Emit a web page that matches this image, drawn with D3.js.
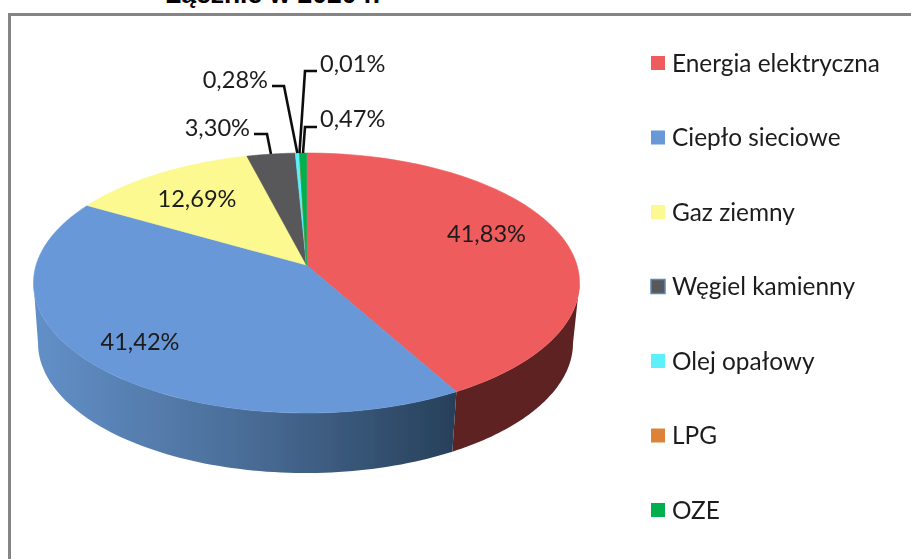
<html>
  <head>
    <meta charset="utf-8">
    <script src="https://d3js.org/d3.v7.min.js"></script>
    <style>
      body { margin: 0; background: #fff; overflow: hidden; }
      text { font-family: Lato, sans-serif; fill: #1c1c1c; }
    </style>
  </head>
  <body>
    <svg class="chart" width="911" height="559"></svg>

    <script>
      var categories = ["Energia elektryczna", "Ciepło sieciowe", "Gaz ziemny", "Węgiel kamienny", "Olej opałowy", "LPG", "OZE"];
      var shares = [41.83, 41.42, 12.69, 3.30, 0.28, 0.01, 0.47];
      var shareLabels = ["41,83%", "41,42%", "12,69%", "3,30%", "0,28%", "0,01%", "0,47%"];
      var colors = ["#ef5b5d", "#6898d7", "#fbf98f", "#58585a", "#5cf0fb", "#dd8338", "#00b050"];
      var title = "Łącznie w 2020 r.";

      var w = 911, h = 559;
      var svg = d3.select(".chart");

      var x = d3.scaleLinear().domain([-1, 1]).range([33.5, 579.5]);
      var y = d3.scaleLinear().domain([-1, 1]).range([413, 153]);
      // bottom rim is a bit narrower, the chart has perspective
      var xLow = d3.scaleLinear().domain([-1, 1]).range([38, 573]);
      var yLow = d3.scaleLinear().domain([-1, 1]).range([473, 213]);

      // slices meet above the ellipse centre, same perspective again
      var apexY = 0.138;

      var pie = d3.pie().sort(null).value(function(d) { return d; });
      var slices = pie(shares);

      function rimAngle(a) {
        var c = Math.cos(a), s = Math.sin(a);
        var len = -apexY * c + Math.sqrt(apexY * apexY * c * c - apexY * apexY + 1);
        var t = Math.atan2(len * s, apexY + len * c);
        while (t < a - Math.PI) t += 2 * Math.PI;
        return t;
      }

      function samples(t0, t1) {
        return d3.range(81).map(function(i) { return t0 + (t1 - t0) * i / 80; });
      }

      var top3d = d3.line()
        .x(function(t) { return x(Math.sin(t)); })
        .y(function(t) { return y(Math.cos(t)); });
      var low3d = d3.line()
        .x(function(t) { return xLow(Math.sin(t)); })
        .y(function(t) { return yLow(Math.cos(t)); });

      var defs = svg.append("defs");
      defs.append("filter").attr("id", "soft")
        .append("feGaussianBlur").attr("stdDeviation", 0.5);
      var grad = defs.append("linearGradient").attr("id", "blueWall")
        .attr("gradientUnits", "userSpaceOnUse")
        .attr("x1", x(-1)).attr("x2", x(0.55)).attr("y1", 0).attr("y2", 0);
      grad.append("stop").attr("offset", 0).attr("stop-color", "#6290c8");
      grad.append("stop").attr("offset", 0.5).attr("stop-color", "#4a6d97");
      grad.append("stop").attr("offset", 1).attr("stop-color", "#27405a");

      // grey frame runs off the right and bottom of the picture
      svg.append("path")
        .attr("d", "M9.5," + h + "V14.5H" + w)
        .attr("fill", "none").attr("stroke", "#858585").attr("stroke-width", 3);

      svg.append("text")
        .attr("x", 165).attr("y", 3)
        .style("font-family", "'Liberation Sans', sans-serif")
        .style("font-weight", "bold").style("font-size", "26.5px").style("fill", "#000")
        .text(title);

      var g = svg.append("g").attr("filter", "url(#soft)");

      // side wall, only the front half of the rim shows
      slices.forEach(function(d, i) {
        var t0 = Math.max(rimAngle(d.startAngle), Math.PI / 2);
        var t1 = Math.min(rimAngle(d.endAngle), 3 * Math.PI / 2);
        if (t1 <= t0) return;
        var a = samples(t0, t1);
        g.append("path")
          .attr("d", top3d(a) + "L" + low3d(a.slice().reverse()).slice(1) + "Z")
          .attr("fill", i == 1 ? "url(#blueWall)" : "#5e2221");
      });

      // top face, stroke in own colour hides the seams between slices
      g.selectAll("path.slice").data(slices).enter().append("path")
        .attr("class", "slice")
        .attr("d", function(d) {
          return "M" + x(0) + "," + y(apexY) + "L" +
            top3d(samples(rimAngle(d.startAngle), rimAngle(d.endAngle))).slice(1) + "Z";
        })
        .attr("fill", function(d, i) { return colors[i]; })
        .attr("stroke", function(d, i) { return colors[i]; })
        .attr("stroke-width", 0.6);

      // labels inside the pie
      var insideLabels = [[486.5, 233], [140, 341], [197, 198]];
      insideLabels.forEach(function(p, i) {
        g.append("text").attr("x", p[0]).attr("y", p[1])
          .attr("text-anchor", "middle").attr("dominant-baseline", "central")
          .style("font-size", "23.6px").text(shareLabels[i]);
      });

      // labels outside with leader lines
      var outsideLabels = [
        { i: 3, x: 250, y: 136, sx: 254, ex: 267, ey: 134, anchor: "end" },
        { i: 4, x: 268, y: 88, sx: 272, ex: 284, ey: 86, anchor: "end" },
        { i: 5, x: 320, y: 72, sx: 317, ex: 305, ey: 71, anchor: "start" },
        { i: 6, x: 320, y: 127, sx: 317, ex: 305, ey: 127, anchor: "start" }
      ];
      outsideLabels.forEach(function(l) {
        var d = slices[l.i];
        var t = rimAngle((d.startAngle + d.endAngle) / 2);
        var pts = [[l.sx, l.ey], [l.ex, l.ey], [x(Math.sin(t)), y(Math.cos(t))]];
        g.append("path").attr("d", d3.line()(pts))
          .attr("fill", "none").attr("stroke", "#111").attr("stroke-width", 2.6);
        g.append("text").attr("x", l.x).attr("y", l.y)
          .attr("text-anchor", l.anchor)
          .style("font-size", "23.6px").text(shareLabels[l.i]);
      });

      // legend
      var ly = d3.scalePoint().domain(categories).range([63, 510]);
      categories.forEach(function(c, i) {
        g.append("rect")
          .attr("x", 651).attr("y", ly(c) - 7).attr("width", 14).attr("height", 14)
          .attr("fill", colors[i])
          .attr("stroke", i == 3 ? "#5b88bd" : "none").attr("stroke-width", 1.5);
        g.append("text").attr("x", 672).attr("y", ly(c) - 1)
          .attr("dominant-baseline", "central")
          .style("font-size", "24.4px").text(c);
      });
    </script>
  </body>
</html>
